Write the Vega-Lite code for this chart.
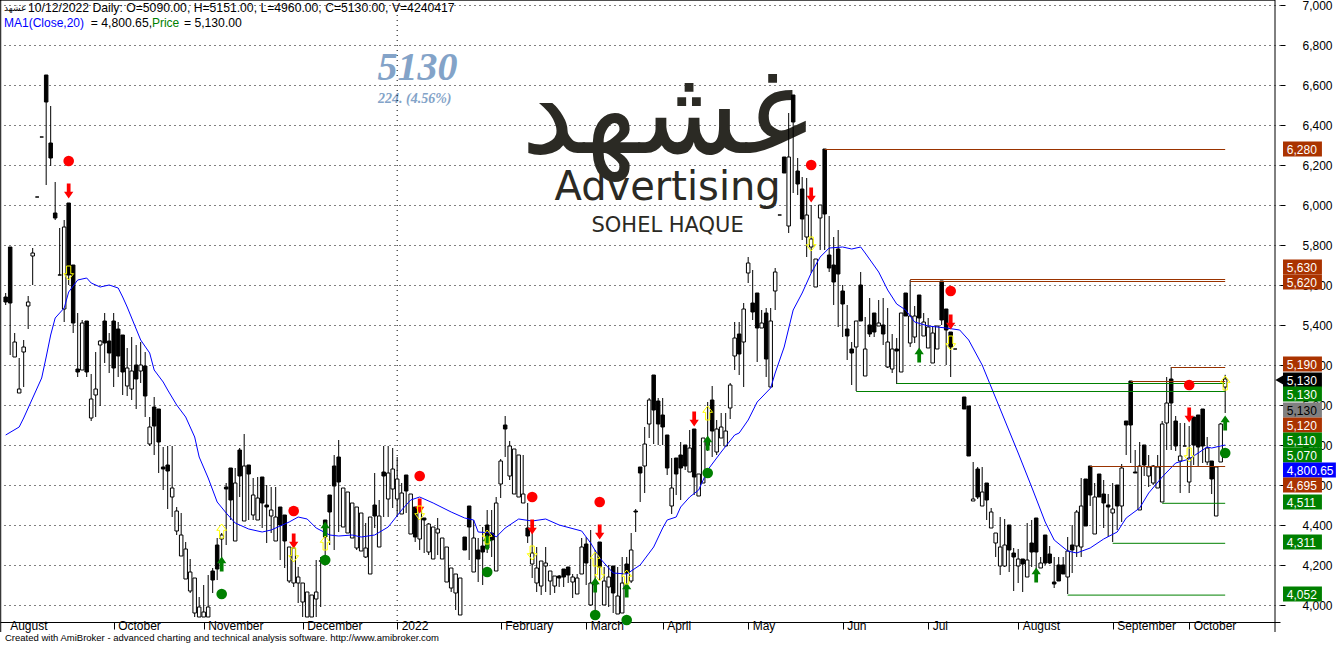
{"$schema":"https://vega.github.io/schema/vega-lite/v6.json","autosize":{"type":"none"},"padding":{"left":0,"top":0,"right":56,"bottom":23},"width":1280,"height":622,"background":"#ffffff","config":{"view":{"stroke":null},"text":{"font":"Liberation Sans"},"axis":{"labelFont":"Liberation Sans"}},
"datasets":{"candles":[
{"bar":1,"open":5540,"high":5560,"low":5500,"close":5515},{"bar":2,"open":5790,"high":5790,"low":5250,"close":5510},{"bar":3,"open":5240,"high":5360,"low":5240,"close":5315},{"bar":4,"open":5060,"high":5235,"low":5060,"close":5080},{"bar":5,"open":5265,"high":5325,"low":5090,"close":5290},{"bar":6,"open":5495,"high":5545,"low":5380,"close":5515},{"bar":7,"open":5745,"high":5785,"low":5600,"close":5760},{"bar":8,"open":6040,"high":6040,"low":6040,"close":6040},{"bar":9,"open":6340,"high":6340,"low":6340,"close":6340},{"bar":10,"open":6650,"high":6650,"low":6100,"close":6515},
{"bar":11,"open":6310,"high":6495,"low":6195,"close":6235},{"bar":12,"open":5960,"high":6115,"low":5925,"close":5935},{"bar":13,"open":5650,"high":5885,"low":5650,"close":5650},{"bar":14,"open":5480,"high":5925,"low":5415,"close":5890},{"bar":15,"open":6010,"high":6010,"low":5600,"close":5650},{"bar":16,"open":5700,"high":5700,"low":5360,"close":5410},{"bar":17,"open":5180,"high":5460,"low":5140,"close":5165},{"bar":18,"open":5175,"high":5425,"low":5175,"close":5410},{"bar":19,"open":5420,"high":5420,"low":5140,"close":5165},{"bar":20,"open":4935,"high":5155,"low":4920,"close":5030},
{"bar":21,"open":5050,"high":5265,"low":4940,"close":5080},{"bar":22,"open":5300,"high":5325,"low":4995,"close":5320},{"bar":23,"open":5420,"high":5460,"low":5210,"close":5310},{"bar":24,"open":5320,"high":5360,"low":5160,"close":5260},{"bar":25,"open":5420,"high":5460,"low":5090,"close":5185},{"bar":26,"open":5380,"high":5415,"low":5140,"close":5245},{"bar":27,"open":5350,"high":5350,"low":5050,"close":5165},{"bar":28,"open":5095,"high":5285,"low":5045,"close":5185},{"bar":29,"open":5080,"high":5340,"low":5025,"close":5170},{"bar":30,"open":5200,"high":5300,"low":4980,"close":5130},
{"bar":31,"open":5170,"high":5315,"low":5110,"close":5200},{"bar":32,"open":5195,"high":5265,"low":4940,"close":5045},{"bar":33,"open":4805,"high":4940,"low":4795,"close":4890},{"bar":34,"open":4990,"high":5040,"low":4750,"close":4895},{"bar":35,"open":4980,"high":4980,"low":4660,"close":4815},{"bar":36,"open":4690,"high":4790,"low":4575,"close":4680},{"bar":37,"open":4700,"high":4795,"low":4480,"close":4670},{"bar":38,"open":4540,"high":4795,"low":4440,"close":4585},{"bar":39,"open":4370,"high":4490,"low":4350,"close":4470},{"bar":40,"open":4245,"high":4460,"low":4245,"close":4350},
{"bar":41,"open":4130,"high":4315,"low":4130,"close":4280},{"bar":42,"open":4070,"high":4230,"low":4060,"close":4165},{"bar":43,"open":3960,"high":4135,"low":3940,"close":4135},{"bar":44,"open":3940,"high":4040,"low":3940,"close":3990},{"bar":45,"open":3940,"high":4100,"low":3940,"close":3965},{"bar":46,"open":3940,"high":4150,"low":3940,"close":3990},{"bar":47,"open":4170,"high":4185,"low":4060,"close":4125},{"bar":48,"open":4300,"high":4335,"low":4125,"close":4180},{"bar":49,"open":4330,"high":4360,"low":4225,"close":4350},{"bar":50,"open":4590,"high":4610,"low":4300,"close":4580},
{"bar":51,"open":4685,"high":4685,"low":4425,"close":4525},{"bar":52,"open":4320,"high":4685,"low":4320,"close":4610},{"bar":53,"open":4775,"high":4785,"low":4540,"close":4645},{"bar":54,"open":4420,"high":4855,"low":4420,"close":4695},{"bar":55,"open":4700,"high":4700,"low":4425,"close":4655},{"bar":56,"open":4450,"high":4635,"low":4425,"close":4550},{"bar":57,"open":4425,"high":4640,"low":4425,"close":4535},{"bar":58,"open":4640,"high":4640,"low":4385,"close":4510},{"bar":59,"open":4500,"high":4600,"low":4310,"close":4490},{"bar":60,"open":4445,"high":4590,"low":4360,"close":4475},
{"bar":61,"open":4320,"high":4590,"low":4320,"close":4440},{"bar":62,"open":4490,"high":4490,"low":4225,"close":4400},{"bar":63,"open":4450,"high":4450,"low":4185,"close":4320},{"bar":64,"open":4120,"high":4290,"low":4110,"close":4290},{"bar":65,"open":4110,"high":4290,"low":4090,"close":4285},{"bar":66,"open":4110,"high":4190,"low":4010,"close":4140},{"bar":67,"open":4015,"high":4110,"low":3940,"close":4110},{"bar":68,"open":3940,"high":4065,"low":3940,"close":4065},{"bar":69,"open":3940,"high":4050,"low":3940,"close":4050},{"bar":70,"open":4030,"high":4225,"low":3940,"close":4065},
{"bar":71,"open":4220,"high":4240,"low":3990,"close":4220},{"bar":72,"open":4425,"high":4425,"low":4200,"close":4340},{"bar":73,"open":4550,"high":4550,"low":4300,"close":4465},{"bar":74,"open":4695,"high":4750,"low":4275,"close":4595},{"bar":75,"open":4740,"high":4825,"low":4365,"close":4615},{"bar":76,"open":4390,"high":4585,"low":4390,"close":4585},{"bar":77,"open":4360,"high":4565,"low":4360,"close":4565},{"bar":78,"open":4335,"high":4510,"low":4335,"close":4510},{"bar":79,"open":4285,"high":4490,"low":4275,"close":4490},{"bar":80,"open":4270,"high":4460,"low":4270,"close":4460},
{"bar":81,"open":4240,"high":4410,"low":4235,"close":4285},{"bar":82,"open":4155,"high":4440,"low":4155,"close":4440},{"bar":83,"open":4500,"high":4660,"low":4385,"close":4445},{"bar":84,"open":4290,"high":4525,"low":4290,"close":4445},{"bar":85,"open":4665,"high":4795,"low":4440,"close":4645},{"bar":86,"open":4530,"high":4795,"low":4440,"close":4660},{"bar":87,"open":4580,"high":4785,"low":4485,"close":4680},{"bar":88,"open":4530,"high":4740,"low":4440,"close":4630},{"bar":89,"open":4455,"high":4610,"low":4455,"close":4560},{"bar":90,"open":4650,"high":4650,"low":4460,"close":4570},
{"bar":91,"open":4355,"high":4555,"low":4355,"close":4555},{"bar":92,"open":4490,"high":4490,"low":4315,"close":4340},{"bar":93,"open":4330,"high":4500,"low":4275,"close":4475},{"bar":94,"open":4435,"high":4435,"low":4260,"close":4425},{"bar":95,"open":4265,"high":4410,"low":4250,"close":4405},{"bar":96,"open":4230,"high":4390,"low":4230,"close":4390},{"bar":97,"open":4360,"high":4435,"low":4250,"close":4380},{"bar":98,"open":4230,"high":4335,"low":4230,"close":4335},{"bar":99,"open":4115,"high":4290,"low":4115,"close":4290},{"bar":100,"open":4085,"high":4185,"low":4065,"close":4185},
{"bar":101,"open":4060,"high":4155,"low":3975,"close":4155},{"bar":102,"open":3950,"high":4135,"low":3950,"close":4135},{"bar":103,"open":4340,"high":4340,"low":4275,"close":4275},{"bar":104,"open":4495,"high":4495,"low":4225,"close":4390},{"bar":105,"open":4165,"high":4425,"low":4165,"close":4335},{"bar":106,"open":4275,"high":4335,"low":4115,"close":4230},{"bar":107,"open":4295,"high":4390,"low":4100,"close":4265},{"bar":108,"open":4400,"high":4475,"low":4260,"close":4285},{"bar":109,"open":4360,"high":4475,"low":4240,"close":4325},{"bar":110,"open":4170,"high":4540,"low":4170,"close":4510},
{"bar":111,"open":4605,"high":4730,"low":4535,"close":4720},{"bar":112,"open":4900,"high":4945,"low":4740,"close":4880},{"bar":113,"open":4645,"high":4820,"low":4625,"close":4795},{"bar":114,"open":4555,"high":4780,"low":4555,"close":4780},{"bar":115,"open":4540,"high":4750,"low":4540,"close":4750},{"bar":116,"open":4510,"high":4750,"low":4510,"close":4555},{"bar":117,"open":4385,"high":4510,"low":4310,"close":4345},{"bar":118,"open":4205,"high":4380,"low":4135,"close":4260},{"bar":119,"open":4110,"high":4290,"low":4065,"close":4185},{"bar":120,"open":4095,"high":4220,"low":4050,"close":4220},
{"bar":121,"open":4195,"high":4290,"low":4065,"close":4210},{"bar":122,"open":4120,"high":4170,"low":4050,"close":4170},{"bar":123,"open":4095,"high":4145,"low":4060,"close":4145},{"bar":124,"open":4145,"high":4150,"low":4090,"close":4135},{"bar":125,"open":4180,"high":4180,"low":4090,"close":4140},{"bar":126,"open":4190,"high":4190,"low":4110,"close":4150},{"bar":127,"open":4115,"high":4155,"low":4035,"close":4140},{"bar":128,"open":4055,"high":4155,"low":4055,"close":4135},{"bar":129,"open":4155,"high":4335,"low":4155,"close":4290},{"bar":130,"open":4305,"high":4340,"low":4100,"close":4210},
{"bar":131,"open":4000,"high":4375,"low":3995,"close":4110},{"bar":132,"open":4100,"high":4275,"low":3960,"close":4110},{"bar":133,"open":4315,"high":4315,"low":4125,"close":4190},{"bar":134,"open":4000,"high":4190,"low":4000,"close":4120},{"bar":135,"open":4090,"high":4200,"low":3990,"close":4140},{"bar":136,"open":4195,"high":4195,"low":3960,"close":4060},{"bar":137,"open":3955,"high":4190,"low":3955,"close":4045},{"bar":138,"open":3960,"high":4240,"low":3960,"close":4110},{"bar":139,"open":4205,"high":4240,"low":4075,"close":4160},{"bar":140,"open":4120,"high":4360,"low":4110,"close":4275},
{"bar":141,"open":4470,"high":4480,"low":4365,"close":4465},{"bar":142,"open":4690,"high":4690,"low":4515,"close":4660},{"bar":143,"open":4695,"high":4890,"low":4560,"close":4805},{"bar":144,"open":4905,"high":5035,"low":4835,"close":5025},{"bar":145,"open":5150,"high":5150,"low":4805,"close":4975},{"bar":146,"open":5020,"high":5035,"low":4800,"close":4905},{"bar":147,"open":4950,"high":5035,"low":4800,"close":4890},{"bar":148,"open":4850,"high":4850,"low":4650,"close":4685},{"bar":149,"open":4495,"high":4735,"low":4455,"close":4585},{"bar":150,"open":4735,"high":4735,"low":4550,"close":4655},
{"bar":151,"open":4750,"high":4815,"low":4525,"close":4685},{"bar":152,"open":4800,"high":4800,"low":4675,"close":4695},{"bar":153,"open":4665,"high":4875,"low":4665,"close":4785},{"bar":154,"open":4880,"high":4880,"low":4550,"close":4640},{"bar":155,"open":4545,"high":4655,"low":4545,"close":4655},{"bar":156,"open":4610,"high":4835,"low":4610,"close":4835},{"bar":157,"open":4800,"high":5015,"low":4770,"close":4820},{"bar":158,"open":5025,"high":5095,"low":4740,"close":4870},{"bar":159,"open":4765,"high":4925,"low":4750,"close":4880},{"bar":160,"open":4835,"high":4960,"low":4835,"close":4890},
{"bar":161,"open":4795,"high":4960,"low":4795,"close":4870},{"bar":162,"open":4985,"high":5110,"low":4930,"close":5100},{"bar":163,"open":5245,"high":5415,"low":5175,"close":5335},{"bar":164,"open":5355,"high":5415,"low":5150,"close":5255},{"bar":165,"open":5315,"high":5510,"low":5090,"close":5480},{"bar":166,"open":5660,"high":5740,"low":5610,"close":5710},{"bar":167,"open":5510,"high":5675,"low":5425,"close":5465},{"bar":168,"open":5560,"high":5560,"low":5215,"close":5385},{"bar":169,"open":5385,"high":5475,"low":5385,"close":5410},{"bar":170,"open":5460,"high":5485,"low":5140,"close":5230},
{"bar":171,"open":5090,"high":5485,"low":5090,"close":5420},{"bar":172,"open":5570,"high":5685,"low":5475,"close":5665},{"bar":173,"open":5950,"high":5950,"low":5950,"close":5950},{"bar":174,"open":6240,"high":6240,"low":6160,"close":6160},{"bar":175,"open":5895,"high":6460,"low":5860,"close":6240},{"bar":176,"open":6550,"high":6550,"low":6060,"close":6415},{"bar":177,"open":6170,"high":6235,"low":6050,"close":6105},{"bar":178,"open":6080,"high":6140,"low":5825,"close":5930},{"bar":179,"open":5840,"high":6135,"low":5740,"close":5950},{"bar":180,"open":5790,"high":6000,"low":5660,"close":5830},
{"bar":181,"open":5590,"high":5730,"low":5590,"close":5730},{"bar":182,"open":5935,"high":6000,"low":5775,"close":6000},{"bar":183,"open":6280,"high":6280,"low":5775,"close":5955},{"bar":184,"open":5750,"high":5945,"low":5665,"close":5685},{"bar":185,"open":5700,"high":5840,"low":5500,"close":5615},{"bar":186,"open":5780,"high":5875,"low":5390,"close":5655},{"bar":187,"open":5570,"high":5600,"low":5340,"close":5505},{"bar":188,"open":5380,"high":5500,"low":5225,"close":5345},{"bar":189,"open":5280,"high":5315,"low":5100,"close":5260},{"bar":190,"open":5290,"high":5420,"low":5070,"close":5420},
{"bar":191,"open":5600,"high":5665,"low":5420,"close":5420},{"bar":192,"open":5145,"high":5440,"low":5145,"close":5280},{"bar":193,"open":5400,"high":5535,"low":5340,"close":5355},{"bar":194,"open":5460,"high":5460,"low":5340,"close":5365},{"bar":195,"open":5395,"high":5525,"low":5395,"close":5410},{"bar":196,"open":5400,"high":5535,"low":5300,"close":5355},{"bar":197,"open":5190,"high":5485,"low":5185,"close":5315},{"bar":198,"open":5180,"high":5355,"low":5160,"close":5280},{"bar":199,"open":5280,"high":5335,"low":5105,"close":5270},{"bar":200,"open":5165,"high":5460,"low":5165,"close":5460},
{"bar":201,"open":5560,"high":5560,"low":5445,"close":5445},{"bar":202,"open":5310,"high":5625,"low":5290,"close":5445},{"bar":203,"open":5340,"high":5495,"low":5310,"close":5445},{"bar":204,"open":5550,"high":5550,"low":5250,"close":5435},{"bar":205,"open":5345,"high":5460,"low":5345,"close":5415},{"bar":206,"open":5285,"high":5435,"low":5285,"close":5390},{"bar":207,"open":5210,"high":5390,"low":5210,"close":5360},{"bar":208,"open":5280,"high":5395,"low":5280,"close":5395},{"bar":209,"open":5620,"high":5620,"low":5400,"close":5425},{"bar":210,"open":5480,"high":5480,"low":5200,"close":5375},
{"bar":211,"open":5365,"high":5365,"low":5140,"close":5290},{"bar":212,"open":5280,"high":5280,"low":5280,"close":5280},{"bar":214,"open":5040,"high":5040,"low":4980,"close":4980},{"bar":215,"open":4995,"high":4995,"low":4745,"close":4745},{"bar":216,"open":4520,"high":4715,"low":4520,"close":4530},{"bar":217,"open":4680,"high":4690,"low":4530,"close":4540},{"bar":218,"open":4495,"high":4690,"low":4495,"close":4565},{"bar":219,"open":4610,"high":4610,"low":4425,"close":4525},{"bar":220,"open":4385,"high":4485,"low":4385,"close":4465},
{"bar":221,"open":4310,"high":4360,"low":4240,"close":4360},{"bar":222,"open":4195,"high":4440,"low":4150,"close":4290},{"bar":223,"open":4195,"high":4430,"low":4190,"close":4300},{"bar":224,"open":4400,"high":4400,"low":4165,"close":4275},{"bar":225,"open":4260,"high":4285,"low":4070,"close":4240},{"bar":226,"open":4195,"high":4280,"low":4110,"close":4230},{"bar":227,"open":4230,"high":4230,"low":4065,"close":4205},{"bar":228,"open":4140,"high":4410,"low":4140,"close":4225},{"bar":229,"open":4310,"high":4425,"low":4190,"close":4265},{"bar":230,"open":4435,"high":4435,"low":4150,"close":4265},
{"bar":231,"open":4185,"high":4240,"low":4185,"close":4210},{"bar":232,"open":4350,"high":4350,"low":4200,"close":4210},{"bar":233,"open":4255,"high":4295,"low":4205,"close":4210},{"bar":234,"open":4115,"high":4240,"low":4085,"close":4105},{"bar":235,"open":4200,"high":4240,"low":4120,"close":4120},{"bar":236,"open":4200,"high":4240,"low":4155,"close":4155},{"bar":237,"open":4140,"high":4340,"low":4055,"close":4270},{"bar":238,"open":4300,"high":4400,"low":4160,"close":4275},{"bar":239,"open":4295,"high":4475,"low":4240,"close":4465},{"bar":240,"open":4290,"high":4635,"low":4240,"close":4495},
{"bar":241,"open":4630,"high":4630,"low":4395,"close":4395},{"bar":242,"open":4695,"high":4695,"low":4495,"close":4550},{"bar":243,"open":4355,"high":4610,"low":4355,"close":4540},{"bar":244,"open":4655,"high":4655,"low":4540,"close":4540},{"bar":245,"open":4555,"high":4625,"low":4385,"close":4510},{"bar":246,"open":4500,"high":4555,"low":4340,"close":4490},{"bar":247,"open":4460,"high":4610,"low":4315,"close":4480},{"bar":248,"open":4600,"high":4600,"low":4375,"close":4495},{"bar":249,"open":4495,"high":4705,"low":4415,"close":4685},{"bar":250,"open":4920,"high":4920,"low":4750,"close":4900},
{"bar":251,"open":5120,"high":5120,"low":4710,"close":4900},{"bar":252,"open":4665,"high":4775,"low":4660,"close":4660},{"bar":253,"open":4475,"high":4815,"low":4475,"close":4695},{"bar":254,"open":4800,"high":4800,"low":4645,"close":4700},{"bar":255,"open":4645,"high":4750,"low":4590,"close":4690},{"bar":256,"open":4610,"high":4700,"low":4600,"close":4695},{"bar":257,"open":4585,"high":4750,"low":4585,"close":4690},{"bar":258,"open":4515,"high":4920,"low":4515,"close":4905},{"bar":259,"open":4910,"high":5140,"low":4775,"close":5010},{"bar":260,"open":5130,"high":5190,"low":4775,"close":5010},
{"bar":261,"open":4920,"high":4945,"low":4770,"close":4795},{"bar":262,"open":4720,"high":4910,"low":4560,"close":4745},{"bar":263,"open":4795,"high":4910,"low":4795,"close":4795},{"bar":264,"open":4615,"high":4895,"low":4560,"close":4735},{"bar":265,"open":4940,"high":4940,"low":4700,"close":4800},{"bar":266,"open":4950,"high":4950,"low":4690,"close":4790},{"bar":267,"open":4980,"high":4980,"low":4710,"close":4795},{"bar":268,"open":4715,"high":4840,"low":4700,"close":4785},{"bar":269,"open":4720,"high":4720,"low":4555,"close":4630},{"bar":270,"open":4445,"high":4690,"low":4445,"close":4690},
{"bar":271,"open":4715,"high":4910,"low":4715,"close":4905},{"bar":272,"open":5090,"high":5151,"low":4960,"close":5130}],
"ma":[{"bar":1,"ma":4850},{"bar":4,"ma":4890},{"bar":5,"ma":4935},{"bar":7,"ma":5035},{"bar":9,"ma":5135},{"bar":10,"ma":5240},{"bar":11,"ma":5350},{"bar":12,"ma":5435},{"bar":14,"ma":5485},{"bar":15,"ma":5565},{"bar":17,"ma":5625},{"bar":19,"ma":5635},{"bar":20,"ma":5610},{"bar":22,"ma":5590},{"bar":24,"ma":5600},{"bar":26,"ma":5585},{"bar":27,"ma":5540},{"bar":28,"ma":5490},{"bar":29,"ma":5435},{"bar":31,"ma":5325},{"bar":33,"ma":5260},{"bar":34,"ma":5175},{"bar":36,"ma":5115},{"bar":37,"ma":5075},{"bar":39,"ma":5000},{"bar":41,"ma":4940},{"bar":43,"ma":4840},{"bar":44,"ma":4740},{"bar":46,"ma":4635},{"bar":48,"ma":4515},{"bar":50,"ma":4460},{"bar":52,"ma":4410},{"bar":55,"ma":4380},{"bar":58,"ma":4365},{"bar":60,"ma":4375},{"bar":64,"ma":4415},{"bar":66,"ma":4440},{"bar":68,"ma":4430},{"bar":70,"ma":4385},{"bar":73,"ma":4350},{"bar":75,"ma":4345},{"bar":78,"ma":4350},{"bar":80,"ma":4340},{"bar":83,"ma":4350},{"bar":86,"ma":4390},{"bar":89,"ma":4475},{"bar":91,"ma":4525},{"bar":93,"ma":4540},{"bar":96,"ma":4510},{"bar":100,"ma":4465},{"bar":103,"ma":4435},{"bar":105,"ma":4425},{"bar":106,"ma":4365},{"bar":109,"ma":4360},{"bar":110,"ma":4340},{"bar":112,"ma":4385},{"bar":115,"ma":4430},{"bar":118,"ma":4420},{"bar":121,"ma":4430},{"bar":124,"ma":4400},{"bar":129,"ma":4370},{"bar":131,"ma":4310},{"bar":133,"ma":4235},{"bar":136,"ma":4160},{"bar":139,"ma":4155},{"bar":142,"ma":4200},{"bar":145,"ma":4290},{"bar":147,"ma":4385},{"bar":148,"ma":4425},{"bar":150,"ma":4440},{"bar":151,"ma":4490},{"bar":153,"ma":4540},{"bar":155,"ma":4575},{"bar":157,"ma":4675},{"bar":160,"ma":4765},{"bar":163,"ma":4850},{"bar":164,"ma":4860},{"bar":166,"ma":4925},{"bar":168,"ma":5015},{"bar":171,"ma":5085},{"bar":172,"ma":5160},{"bar":174,"ma":5290},{"bar":176,"ma":5475},{"bar":178,"ma":5560},{"bar":180,"ma":5660},{"bar":182,"ma":5740},{"bar":184,"ma":5785},{"bar":187,"ma":5790},{"bar":189,"ma":5780},{"bar":191,"ma":5790},{"bar":192,"ma":5760},{"bar":195,"ma":5665},{"bar":197,"ma":5575},{"bar":199,"ma":5505},{"bar":201,"ma":5475},{"bar":203,"ma":5415},{"bar":206,"ma":5395},{"bar":210,"ma":5385},{"bar":213,"ma":5375},{"bar":215,"ma":5325},{"bar":218,"ma":5200},{"bar":220,"ma":5090},{"bar":223,"ma":4925},{"bar":226,"ma":4760},{"bar":229,"ma":4590},{"bar":232,"ma":4415},{"bar":234,"ma":4325},{"bar":237,"ma":4270},{"bar":239,"ma":4260},{"bar":242,"ma":4285},{"bar":245,"ma":4330},{"bar":248,"ma":4365},{"bar":250,"ma":4435},{"bar":253,"ma":4485},{"bar":255,"ma":4560},{"bar":258,"ma":4640},{"bar":261,"ma":4710},{"bar":264,"ma":4730},{"bar":268,"ma":4790},{"bar":269,"ma":4785},{"bar":272,"ma":4800}],
"signals":[{"bar":15,"price":6220,"kind":"redDot"},{"bar":65,"price":4470,"kind":"redDot"},{"bar":93,"price":4645,"kind":"redDot"},{"bar":118,"price":4540,"kind":"redDot"},{"bar":133,"price":4515,"kind":"redDot"},{"bar":180,"price":6200,"kind":"redDot"},{"bar":211,"price":5570,"kind":"redDot"},{"bar":264,"price":5100,"kind":"redDot"},{"bar":49,"price":4055,"kind":"greenDot"},{"bar":72,"price":4225,"kind":"greenDot"},{"bar":108,"price":4165,"kind":"greenDot"},{"bar":132,"price":3950,"kind":"greenDot"},{"bar":139,"price":3925,"kind":"greenDot"},{"bar":157,"price":4660,"kind":"greenDot"},{"bar":272,"price":4760,"kind":"greenDot"},
{"bar":15,"price":6070,"kind":"sell"},{"bar":65,"price":4320,"kind":"sell"},{"bar":93,"price":4495,"kind":"sell"},{"bar":118,"price":4390,"kind":"sell"},{"bar":133,"price":4365,"kind":"sell"},{"bar":180,"price":6050,"kind":"sell"},{"bar":211,"price":5415,"kind":"sell"},{"bar":154,"price":4930,"kind":"sell"},{"bar":264,"price":4950,"kind":"sell"},
{"bar":49,"price":4205,"kind":"buy"},{"bar":72,"price":4380,"kind":"buy"},{"bar":108,"price":4315,"kind":"buy"},{"bar":132,"price":4100,"kind":"buy"},{"bar":139,"price":4075,"kind":"buy"},{"bar":157,"price":4810,"kind":"buy"},{"bar":204,"price":5250,"kind":"buy"},{"bar":230,"price":4150,"kind":"buy"},{"bar":272,"price":4910,"kind":"buy"},
{"bar":49,"price":4370,"kind":"yellowUp"},{"bar":72,"price":4310,"kind":"yellowUp"},{"bar":108,"price":4340,"kind":"yellowUp"},{"bar":132,"price":4230,"kind":"yellowUp"},{"bar":139,"price":4140,"kind":"yellowUp"},{"bar":157,"price":4960,"kind":"yellowUp"},{"bar":272,"price":5110,"kind":"yellowUp"},
{"bar":15,"price":5660,"kind":"yellowDown"},{"bar":65,"price":4250,"kind":"yellowDown"},{"bar":93,"price":4460,"kind":"yellowDown"},{"bar":118,"price":4260,"kind":"yellowDown"},{"bar":133,"price":4155,"kind":"yellowDown"},{"bar":180,"price":5805,"kind":"yellowDown"},{"bar":211,"price":5310,"kind":"yellowDown"},{"bar":264,"price":4750,"kind":"yellowDown"}],
"levels":[{"from":183,"to":272,"price":6280,"kind":"resistance"},{"from":202,"to":272,"price":5630,"kind":"resistance"},{"from":202,"to":272,"price":5620,"kind":"resistance"},{"from":260,"to":272,"price":5190,"kind":"resistance"},{"from":251,"to":272,"price":5120,"kind":"resistance"},{"from":242,"to":272,"price":4695,"kind":"resistance"},{"from":199,"to":272,"price":5110,"kind":"support"},{"from":190,"to":272,"price":5070,"kind":"support"},{"from":258,"to":272,"price":4511,"kind":"support"},{"from":247,"to":272,"price":4311,"kind":"support"},{"from":237,"to":272,"price":4052,"kind":"support"}],
"tags":[{"t":"6,280","slot":6280,"kind":"resistance"},{"t":"5,630","slot":5690,"kind":"resistance"},{"t":"5,620","slot":5615,"kind":"resistance"},{"t":"5,190","slot":5205,"kind":"resistance"},{"t":"5,130","slot":5125,"kind":"last"},{"t":"5,130","slot":5055,"kind":"support"},{"t":"5,130","slot":4975,"kind":"price"},{"t":"5,120","slot":4900,"kind":"resistance"},{"t":"5,110","slot":4825,"kind":"support"},{"t":"5,070","slot":4750,"kind":"support"},{"t":"4,800.65","slot":4675,"kind":"ma"},{"t":"4,695","slot":4600,"kind":"resistance"},{"t":"4,511","slot":4515,"kind":"support"},{"t":"4,311","slot":4315,"kind":"support"},{"t":"4,052","slot":4055,"kind":"support"}]},
"data":{"name":"candles"},
"layer":[
{"data":{"values":[{"t":"غشهد","bar":147.5,"price":6440}]},"mark":{"type":"text","font":"DejaVu Sans","fontSize":120,"color":"#2b2a24","align":"center","baseline":"middle"},"encoding":{"text":{"field":"t"},"x":{"field":"bar","type":"quantitative","scale":{"domain":[0.85,283.07],"nice":false,"zero":false},"axis":{"title":null,"values":[1,25,45,67,88,111,130,147,166,187,206,226,247,264],"labelExpr":"['August','October','November','December','2022','February','March','April','May','Jun','Jul','August','September','October'][indexof([1,25,45,67,88,111,130,147,166,187,206,226,247,264],datum.value)]","grid":false,"domain":true,"domainColor":"#000","domainWidth":1,"tickSize":7,"tickColor":{"condition":{"test":"datum.value==1","value":"transparent"},"value":"#000"},"labelAlign":"left","labelOffset":4,"labelPadding":-8.5,"labelFontSize":12,"labelColor":"#000","labelBound":false,"labelFlush":false,"labelOverlap":false,"zindex":0}},"y":{"field":"price","type":"quantitative","scale":{"domain":[3940,7000],"nice":false,"zero":false},"axis":{"orient":"right","title":null,"values":[4000,4200,4400,4600,4800,5000,5200,5400,5600,5800,6000,6200,6400,6600,6800,7000],"format":",d","grid":true,"gridColor":"#000","gridDash":[1,4],"gridWidth":1,"domain":false,"tickSize":5,"tickColor":"#000","labelAlign":"left","labelPadding":17,"labelFontSize":12,"labelColor":"#000","labelBound":false,"labelOverlap":false,"zindex":0}}}},
{"data":{"values":[{"t":"Advertising","bar":148.1,"price":6085}]},"mark":{"type":"text","font":"DejaVu Sans","fontSize":40,"color":"#2b2a24","align":"center","baseline":"middle"},"encoding":{"text":{"field":"t"},"x":{"field":"bar","type":"quantitative","scale":{"domain":[0.85,283.07],"nice":false,"zero":false}},"y":{"field":"price","type":"quantitative","scale":{"domain":[3940,7000],"nice":false,"zero":false}}}},
{"data":{"values":[{"t":"SOHEL HAQUE","bar":148.1,"price":5895}]},"mark":{"type":"text","font":"DejaVu Sans","fontSize":21,"color":"#2b2a24","align":"center","baseline":"middle"},"encoding":{"text":{"field":"t"},"x":{"field":"bar","type":"quantitative","scale":{"domain":[0.85,283.07],"nice":false,"zero":false}},"y":{"field":"price","type":"quantitative","scale":{"domain":[3940,7000],"nice":false,"zero":false}}}},
{"data":{"values":[{"t":"5130","bar":92.5,"price":6685}]},"mark":{"type":"text","font":"Liberation Serif","fontSize":40,"fontWeight":"bold","fontStyle":"italic","color":"#83a3c8","align":"center","baseline":"middle"},"encoding":{"text":{"field":"t"},"x":{"field":"bar","type":"quantitative","scale":{"domain":[0.85,283.07],"nice":false,"zero":false}},"y":{"field":"price","type":"quantitative","scale":{"domain":[3940,7000],"nice":false,"zero":false}}}},
{"data":{"values":[{"t":"224. (4.56%)","bar":91.9,"price":6530}]},"mark":{"type":"text","font":"Liberation Serif","fontSize":14,"fontWeight":"bold","fontStyle":"italic","color":"#83a3c8","align":"center","baseline":"middle"},"encoding":{"text":{"field":"t"},"x":{"field":"bar","type":"quantitative","scale":{"domain":[0.85,283.07],"nice":false,"zero":false}},"y":{"field":"price","type":"quantitative","scale":{"domain":[3940,7000],"nice":false,"zero":false}}}},
{"data":{"values":[{"bar":88}]},"mark":{"type":"rule","color":"#000","strokeDash":[1,4],"strokeWidth":1},"encoding":{"x":{"field":"bar","type":"quantitative","scale":{"domain":[0.85,283.07],"nice":false,"zero":false}}}},
{"mark":{"type":"rule","color":"#000","strokeWidth":1},"encoding":{"x":{"field":"bar","type":"quantitative","scale":{"domain":[0.85,283.07],"nice":false,"zero":false}},"y":{"field":"low","type":"quantitative","scale":{"domain":[3940,7000],"nice":false,"zero":false}},"y2":{"field":"high"}}},
{"mark":{"type":"bar","orient":"vertical","width":3.5,"stroke":"#000","strokeWidth":1},"encoding":{"x":{"field":"bar","type":"quantitative","scale":{"domain":[0.85,283.07],"nice":false,"zero":false}},"y":{"field":"open","type":"quantitative","scale":{"domain":[3940,7000],"nice":false,"zero":false}},"y2":{"field":"close"},"fill":{"condition":{"test":"datum.close>datum.open","value":"#ffffff"},"value":"#000000"}}},
{"data":{"name":"ma"},"mark":{"type":"line","color":"#0000ff","strokeWidth":1},"encoding":{"x":{"field":"bar","type":"quantitative","scale":{"domain":[0.85,283.07],"nice":false,"zero":false}},"y":{"field":"ma","type":"quantitative","scale":{"domain":[3940,7000],"nice":false,"zero":false}}}},
{"data":{"name":"levels"},"mark":{"type":"rule","strokeWidth":1,"yOffset":0.5},"encoding":{"x":{"field":"from","type":"quantitative","scale":{"domain":[0.85,283.07],"nice":false,"zero":false}},"x2":{"field":"to"},"y":{"field":"price","type":"quantitative","scale":{"domain":[3940,7000],"nice":false,"zero":false}},"stroke":{"field":"kind","type":"nominal","scale":{"domain":["resistance","support"],"range":["#993300","#008000"]},"legend":null}}},
{"data":{"name":"signals"},"transform":[{"filter":"datum.kind=='redDot'||datum.kind=='greenDot'"}],"mark":{"type":"circle","size":113,"opacity":1},"encoding":{"x":{"field":"bar","type":"quantitative","scale":{"domain":[0.85,283.07],"nice":false,"zero":false}},"y":{"field":"price","type":"quantitative","scale":{"domain":[3940,7000],"nice":false,"zero":false}},"fill":{"field":"kind","type":"nominal","scale":{"domain":["redDot","greenDot","resistance","support","last","price","ma"],"range":["#ff0000","#008000","#aa3300","#008000","#000000","#808080","#0000ff"]},"legend":null}}},
{"data":{"name":"signals"},"transform":[{"filter":"datum.kind=='sell'"}],"mark":{"type":"point","filled":true,"size":225,"opacity":1,"color":"#ff0000","shape":"M-0.25,-1L0.25,-1L0.25,0.1L0.62,0.1L0,1L-0.62,0.1L-0.25,0.1Z"},"encoding":{"x":{"field":"bar","type":"quantitative","scale":{"domain":[0.85,283.07],"nice":false,"zero":false}},"y":{"field":"price","type":"quantitative","scale":{"domain":[3940,7000],"nice":false,"zero":false}}}},
{"data":{"name":"signals"},"transform":[{"filter":"datum.kind=='buy'"}],"mark":{"type":"point","filled":true,"size":225,"opacity":1,"color":"#008000","shape":"M-0.25,1L0.25,1L0.25,-0.1L0.62,-0.1L0,-1L-0.62,-0.1L-0.25,-0.1Z"},"encoding":{"x":{"field":"bar","type":"quantitative","scale":{"domain":[0.85,283.07],"nice":false,"zero":false}},"y":{"field":"price","type":"quantitative","scale":{"domain":[3940,7000],"nice":false,"zero":false}}}},
{"data":{"name":"signals"},"transform":[{"filter":"datum.kind=='yellowUp'"}],"mark":{"type":"point","filled":false,"size":196,"opacity":1,"strokeWidth":1,"color":"#ffff00","shape":"M-0.3,1L0.3,1L0.3,-0.1L0.7,-0.1L0,-1L-0.7,-0.1L-0.3,-0.1Z"},"encoding":{"x":{"field":"bar","type":"quantitative","scale":{"domain":[0.85,283.07],"nice":false,"zero":false}},"y":{"field":"price","type":"quantitative","scale":{"domain":[3940,7000],"nice":false,"zero":false}}}},
{"data":{"name":"signals"},"transform":[{"filter":"datum.kind=='yellowDown'"}],"mark":{"type":"point","filled":false,"size":196,"opacity":1,"strokeWidth":1,"color":"#ffff00","shape":"M-0.3,-1L0.3,-1L0.3,0.1L0.7,0.1L0,1L-0.7,0.1L-0.3,0.1Z"},"encoding":{"x":{"field":"bar","type":"quantitative","scale":{"domain":[0.85,283.07],"nice":false,"zero":false}},"y":{"field":"price","type":"quantitative","scale":{"domain":[3940,7000],"nice":false,"zero":false}}}},
{"data":{"values":[{}]},"mark":{"type":"rule","color":"#000","strokeWidth":1},"encoding":{"x":{"datum":283.07,"type":"quantitative","scale":{"domain":[0.85,283.07],"nice":false,"zero":false}},"y":{"datum":7025,"type":"quantitative","scale":{"domain":[3940,7000],"nice":false,"zero":false}},"y2":{"datum":3865}}},
{"data":{"values":[{}]},"mark":{"type":"rule","color":"#000","strokeWidth":1},"encoding":{"x":{"datum":-0.1,"type":"quantitative","scale":{"domain":[0.85,283.07],"nice":false,"zero":false}},"y":{"datum":7025,"type":"quantitative","scale":{"domain":[3940,7000],"nice":false,"zero":false}},"y2":{"datum":3865}}},
{"data":{"values":[{}]},"mark":{"type":"rule","color":"#000","strokeWidth":1},"encoding":{"x":{"datum":-0.26,"type":"quantitative","scale":{"domain":[0.85,283.07],"nice":false,"zero":false}},"x2":{"datum":283.07},"y":{"datum":7024,"type":"quantitative","scale":{"domain":[3940,7000],"nice":false,"zero":false}}}},
{"data":{"name":"tags"},"transform":[{"calculate":"datum.kind=='ma'?296.6:293.5","as":"end"},{"calculate":"284.85","as":"start"}],"mark":{"type":"bar","orient":"horizontal","size":15},"encoding":{"x":{"field":"start","type":"quantitative","scale":{"domain":[0.85,283.07],"nice":false,"zero":false}},"x2":{"field":"end"},"y":{"field":"slot","type":"quantitative","scale":{"domain":[3940,7000],"nice":false,"zero":false}},"fill":{"field":"kind","type":"nominal","scale":{"domain":["redDot","greenDot","resistance","support","last","price","ma"],"range":["#ff0000","#008000","#aa3300","#008000","#000000","#808080","#0000ff"]},"legend":null}}},
{"data":{"values":[{"bar":284.2,"slot":5125}]},"mark":{"type":"point","shape":"triangle-left","filled":true,"size":120,"opacity":1,"color":"#000"},"encoding":{"x":{"field":"bar","type":"quantitative","scale":{"domain":[0.85,283.07],"nice":false,"zero":false}},"y":{"field":"slot","type":"quantitative","scale":{"domain":[3940,7000],"nice":false,"zero":false}}}},
{"data":{"name":"tags"},"transform":[{"calculate":"285.7","as":"start"}],"mark":{"type":"text","align":"left","baseline":"middle","fontSize":12,"dy":0.5},"encoding":{"text":{"field":"t"},"x":{"field":"start","type":"quantitative","scale":{"domain":[0.85,283.07],"nice":false,"zero":false}},"y":{"field":"slot","type":"quantitative","scale":{"domain":[3940,7000],"nice":false,"zero":false}},"color":{"condition":{"test":"datum.kind=='price'","value":"#000000"},"value":"#ffffff"}}},
{"data":{"values":[{"t":"غشهد","bar":0.63,"price":6985}]},"mark":{"type":"text","align":"left","baseline":"middle","fontSize":9,"font":"DejaVu Sans","color":"#000"},"encoding":{"text":{"field":"t"},"x":{"field":"bar","type":"quantitative","scale":{"domain":[0.85,283.07],"nice":false,"zero":false}},"y":{"field":"price","type":"quantitative","scale":{"domain":[3940,7000],"nice":false,"zero":false}}}},
{"data":{"values":[{"t":"10/12/2022 Daily: O=5090.00, H=5151.00, L=4960.00, C=5130.00, V=4240417","bar":5.96,"price":6985},{"t":"= 4,800.65,","bar":19.9,"price":6910},{"t":"= 5,130.00","bar":40.6,"price":6910}]},"mark":{"type":"text","align":"left","baseline":"middle","fontSize":12.2,"color":"#000"},"encoding":{"text":{"field":"t"},"x":{"field":"bar","type":"quantitative","scale":{"domain":[0.85,283.07],"nice":false,"zero":false}},"y":{"field":"price","type":"quantitative","scale":{"domain":[3940,7000],"nice":false,"zero":false}}}},
{"data":{"values":[{"t":"MA1(Close,20)","bar":0.63,"price":6910}]},"mark":{"type":"text","align":"left","baseline":"middle","fontSize":12,"color":"#0000ff"},"encoding":{"text":{"field":"t"},"x":{"field":"bar","type":"quantitative","scale":{"domain":[0.85,283.07],"nice":false,"zero":false}},"y":{"field":"price","type":"quantitative","scale":{"domain":[3940,7000],"nice":false,"zero":false}}}},
{"data":{"values":[{"t":"Price","bar":33.5,"price":6910}]},"mark":{"type":"text","align":"left","baseline":"middle","fontSize":12,"color":"#008000"},"encoding":{"text":{"field":"t"},"x":{"field":"bar","type":"quantitative","scale":{"domain":[0.85,283.07],"nice":false,"zero":false}},"y":{"field":"price","type":"quantitative","scale":{"domain":[3940,7000],"nice":false,"zero":false}}}},
{"data":{"values":[{"t":"Created with AmiBroker - advanced charting and technical analysis software. http://www.amibroker.com","bar":0.85,"price":3835}]},"mark":{"type":"text","align":"left","baseline":"middle","fontSize":9.5,"color":"#000"},"encoding":{"text":{"field":"t"},"x":{"field":"bar","type":"quantitative","scale":{"domain":[0.85,283.07],"nice":false,"zero":false}},"y":{"field":"price","type":"quantitative","scale":{"domain":[3940,7000],"nice":false,"zero":false}}}}
]}
